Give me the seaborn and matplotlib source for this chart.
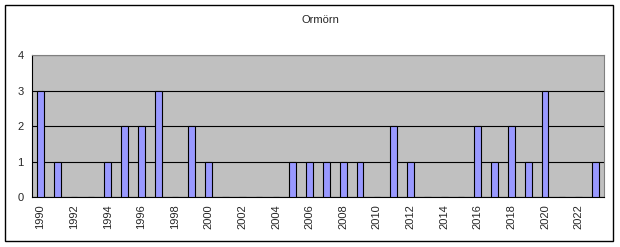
import matplotlib
matplotlib.use("Agg")
import matplotlib.pyplot as plt
import seaborn as sns
import pandas as pd
from matplotlib.patches import Rectangle

years = list(range(1990, 2024))
counts = [3, 1, 0, 0, 1, 2, 2, 3, 0, 2, 1, 0, 0, 0, 0, 1, 1, 1, 1, 1,
          0, 2, 1, 0, 0, 0, 2, 1, 2, 1, 3, 0, 0, 1]
title = "Ormörn"

sns.set_style("white")
plt.rcParams['font.family'] = ['Liberation Sans', 'DejaVu Sans']

df = pd.DataFrame({"year": [str(y) for y in years], "count": counts})

W, H = 620, 247
fig = plt.figure(figsize=(W / 100, H / 100), dpi=100)
fig.patch.set_facecolor("white")
ax = fig.add_axes([32 / W, 1 - 197 / H, (604 - 32) / W, (197 - 55) / H])
ax.set_facecolor("#C0C0C0")

sns.barplot(data=df, x="year", y="count", order=df["year"], color="#9999FF",
            edgecolor="black", linewidth=0.8, width=0.4, saturation=1, ax=ax,
            zorder=3)

ax.set_xlim(-0.5, len(years) - 0.5)
ax.set_ylim(0, 4)
ax.set_yticks([0, 1, 2, 3, 4])
ax.yaxis.grid(True, color="black", linewidth=0.8, zorder=1)
ax.set_axisbelow(True)

ax.set_xticks(range(0, len(years), 2))
ax.set_xticklabels([str(y) for y in years[::2]], rotation=90, fontsize=8)
ax.set_xticks([i + 0.5 for i in range(-1, len(years))], minor=True)
ax.tick_params(axis="x", which="major", length=0, pad=5)
ax.tick_params(axis="x", which="minor", length=4, width=0.8, color="black", direction="out")
ax.tick_params(axis="y", length=4, width=0.8, color="black", direction="out", labelsize=8, pad=2)
ax.set_xlabel("")
ax.set_ylabel("")

for s in ["top", "right"]:
    ax.spines[s].set_color("#808080")
    ax.spines[s].set_linewidth(0.8)
for s in ["left", "bottom"]:
    ax.spines[s].set_color("black")
    ax.spines[s].set_linewidth(0.8)

fig.text(320 / W, 1 - 20 / H, title, ha="center", va="center", fontsize=8)

fig.patches.append(Rectangle((5 / W, 1 - 241 / H), (613 - 5) / W, (241 - 5) / H,
                             transform=fig.transFigure, fill=False,
                             edgecolor="black", linewidth=1))

fig.savefig("out.png", dpi=100)
